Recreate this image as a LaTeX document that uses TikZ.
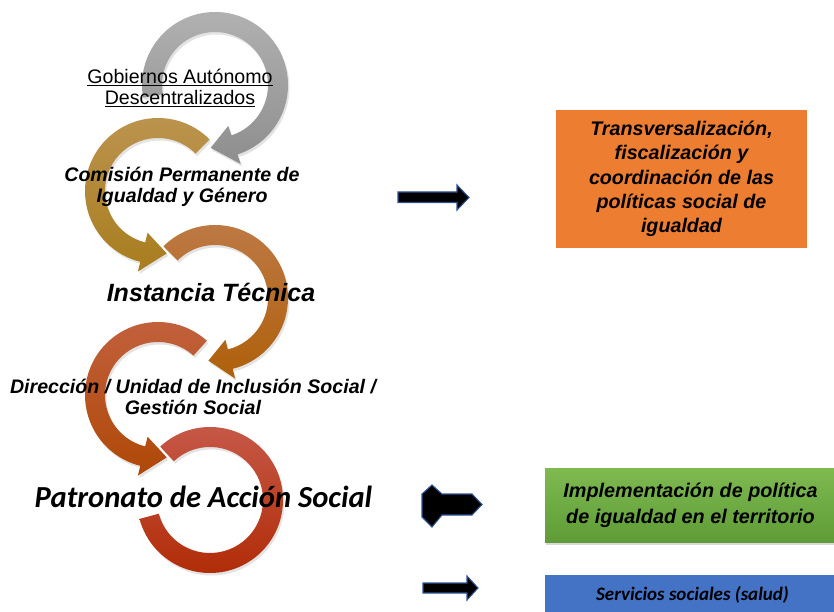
\documentclass[tikz,border=0pt]{standalone}
\usepackage{fontspec}
\setmainfont{Liberation Sans}
\newfontfamily\calibri{Carlito}
\usetikzlibrary{shadows}

\definecolor{graytop}{HTML}{B2B2B2}
\definecolor{graybot}{HTML}{8E8E8E}
\definecolor{goldtop}{HTML}{BC9450}
\definecolor{goldbot}{HTML}{A87D1E}
\definecolor{ambertop}{HTML}{BE7A46}
\definecolor{amberbot}{HTML}{AE600A}
\definecolor{rusttop}{HTML}{C2613F}
\definecolor{rustbot}{HTML}{AF4806}
\definecolor{redtop}{HTML}{C65A4A}
\definecolor{redbot}{HTML}{B02A04}
\definecolor{boxorange}{HTML}{ED7D31}
\definecolor{greentop}{HTML}{7EBA50}
\definecolor{greenbot}{HTML}{5F9C37}
\definecolor{boxblue}{HTML}{4472C4}
\definecolor{arrowblue}{HTML}{2F5597}

\begin{document}
\begin{tikzpicture}[
  x=1pt, y=1pt,
  every node/.style={align=center, inner sep=0pt},
  ring/.style={drop shadow={shadow xshift=1.5pt, shadow yshift=-2.5pt, opacity=.22}},
  lvltext/.style={font=\fontsize{19.6}{20.5}\selectfont\bfseries\itshape},
  boxtext/.style={font=\fontsize{19.7}{24.3}\selectfont\bfseries\itshape},
  blockarrow/.style={fill=black, draw=arrowblue, line width=1.1pt, line join=miter},
]
  \useasboundingbox (0,0) rectangle (834,611);

  % Circular arrows, top to bottom
  \begin{scope}[shift={(215,526)}]
    \shade[ring, top color=graytop, bottom color=graybot]
      (190:73) arc[start angle=190, end angle=-72, radius=73] -- (-72:83) -- (-94:63)
      -- (-72:43) -- (-72:53) arc[start angle=-72, end angle=190, radius=53] -- cycle;
  \end{scope}
  \begin{scope}[shift={(158,420)}]
    \shade[ring, top color=goldtop, bottom color=goldbot]
      (45:73) arc[start angle=45, end angle=256, radius=73] -- (256:83) -- (278:63)
      -- (256:43) -- (256:53) arc[start angle=256, end angle=45, radius=53] -- cycle;
  \end{scope}
  \begin{scope}[shift={(215,313)}]
    \shade[ring, top color=ambertop, bottom color=amberbot]
      (135:73) arc[start angle=135, end angle=-76, radius=73] -- (-76:83) -- (-96:63)
      -- (-76:43) -- (-76:53) arc[start angle=-76, end angle=135, radius=53] -- cycle;
  \end{scope}
  \begin{scope}[shift={(158,216)}]
    \shade[ring, top color=rusttop, bottom color=rustbot]
      (48:73) arc[start angle=48, end angle=256, radius=73] -- (256:83) -- (278:63)
      -- (256:43) -- (256:53) arc[start angle=256, end angle=48, radius=53] -- cycle;
  \end{scope}
  \begin{scope}[shift={(210,111)}]
    \shade[ring, top color=redtop, bottom color=redbot]
      (133:73) arc[start angle=133, end angle=-165, radius=73]
      -- (-165:53) arc[start angle=-165, end angle=133, radius=53] -- cycle;
  \end{scope}

  % Level texts
  \node[font=\fontsize{19.6}{21}\selectfont] (gad) at (180,523)
    {\underline{Gobiernos Autónomo}\\\underline{Descentralizados}};
  \node[lvltext] (comision) at (182,424) {Comisión Permanente de\\Igualdad y Género};
  \node[font=\fontsize{25}{26}\selectfont\bfseries\itshape] (instancia) at (211,319) {Instancia Técnica};
  \node[lvltext, font=\fontsize{19.6}{21}\selectfont\bfseries\itshape] (direccion) at (193,214)
    {Dirección / Unidad de Inclusión Social /\\Gestión Social};
  \node[font=\calibri\fontsize{30.6}{32}\selectfont\bfseries\itshape] (patronato) at (203.5,114)
    {Patronato de Acción Social};

  % Block arrows
  \draw[blockarrow] (398,408.5) -- (457,408.5) -- (457,401) -- (469,413.5)
    -- (457,426) -- (457,419) -- (398,419) -- cycle;
  \draw[blockarrow] (422,117) -- (432,126) -- (442,117) -- (472,117) -- (482,106.5)
    -- (472,96) -- (442,96) -- (432,84) -- (422,94) -- cycle;
  \draw[blockarrow] (423,28) -- (467,28) -- (467,35) -- (478,23)
    -- (467,11) -- (467,18) -- (423,18) -- cycle;

  % Boxes on the right
  \node[boxtext, fill=boxorange, minimum width=251pt, minimum height=138pt] (transv) at (681.5,432)
    {Transversalización,\\fiscalización y\\coordinación de las\\políticas social de\\igualdad};
  \node[boxtext, font=\fontsize{19.8}{26}\selectfont\bfseries\itshape, top color=greentop, bottom color=greenbot,
    minimum width=291pt, minimum height=74pt,
    drop shadow={shadow xshift=1pt, shadow yshift=-3pt, opacity=.3}] (impl) at (690.5,106)
    {Implementación de política\\de igualdad en el territorio};
  \node[fill=boxblue, font=\calibri\fontsize{19}{20}\selectfont\bfseries\itshape,
    minimum width=295pt, minimum height=40pt] (servicios) at (692.5,16)
    {Servicios sociales (salud)};
\end{tikzpicture}
\end{document}
